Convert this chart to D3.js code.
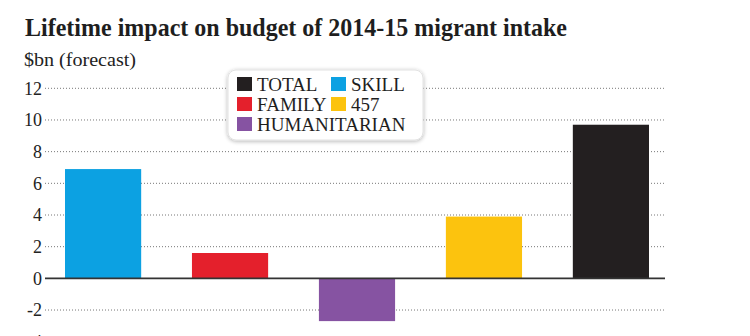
<!DOCTYPE html>
<html><head><meta charset="utf-8">
<script src="https://cdn.jsdelivr.net/npm/d3@7"></script>
<style>body{margin:0;background:#fff;}svg{display:block;}</style>
</head><body>
<svg id="c" width="750" height="336"></svg>
<script>
const categories = ["SKILL", "FAMILY", "HUMANITARIAN", "457", "TOTAL"];
const values = [6.9, 1.6, -2.7, 3.9, 9.7];
const colors = ["#0ca1e2", "#e4202c", "#8653a2", "#fcc30e", "#231f20"];
const yTicks = [-4, -2, 0, 2, 4, 6, 8, 10, 12];
const legendRows = [["TOTAL", "SKILL"], ["FAMILY", "457"], ["HUMANITARIAN"]];
const title = "Lifetime impact on budget of 2014-15 migrant intake";
const subtitle = "$bn (forecast)";

const svg = d3.select("#c");
const serif = "'Liberation Serif','DejaVu Serif',serif";
const left = 45, right = 665;

const x = d3.scaleBand().domain(categories).range([65, 649]).paddingInner(0.4).paddingOuter(0);
const y = d3.scaleLinear().domain([-4, 12]).range([341.7, 88.3]);

svg.append("rect").attr("width", 750).attr("height", 336).attr("fill", "#fff");

svg.append("text").attr("x", 25).attr("y", 36)
  .style("font-family", serif).style("font-weight", "bold").style("font-size", "26px")
  .attr("fill", "#1e1e1e").attr("textLength", 542).attr("lengthAdjust", "spacingAndGlyphs")
  .text(title);
svg.append("text").attr("x", 24).attr("y", 66)
  .style("font-family", serif).style("font-size", "19px").attr("fill", "#222")
  .attr("textLength", 112).attr("lengthAdjust", "spacingAndGlyphs")
  .text(subtitle);

// axis labels
const axis = d3.axisLeft(y).tickValues(yTicks).tickSize(0).tickPadding(0).tickFormat(d => String(d));
const g = svg.append("g").attr("transform", `translate(${left - 3},0)`).call(axis);
g.select(".domain").remove();
g.selectAll("text").style("font-family", serif).style("font-size", "18px").attr("fill", "#222");

// gridlines
svg.append("g").selectAll("line").data(yTicks.filter(d => d !== 0)).join("line")
  .attr("x1", left).attr("x2", right)
  .attr("y1", d => y(d)).attr("y2", d => y(d))
  .attr("stroke", "#777").attr("stroke-width", 1).attr("stroke-dasharray", "1,2");

// bars
svg.append("g").selectAll("rect").data(categories).join("rect")
  .attr("x", d => x(d)).attr("width", x.bandwidth())
  .attr("y", (d, i) => y(Math.max(0, values[i])))
  .attr("height", (d, i) => Math.abs(y(values[i]) - y(0)))
  .attr("fill", (d, i) => colors[i]);

// zero line
svg.append("line").attr("x1", left).attr("x2", right).attr("y1", y(0)).attr("y2", y(0))
  .attr("stroke", "#333").attr("stroke-width", 1.6);

// legend
const defs = svg.append("defs");
const f = defs.append("filter").attr("id", "sh").attr("x", "-10%").attr("y", "-20%").attr("width", "120%").attr("height", "140%");
f.append("feGaussianBlur").attr("in", "SourceAlpha").attr("stdDeviation", 2);
f.append("feOffset").attr("dx", 0).attr("dy", 1).attr("result", "b");
f.append("feComponentTransfer").append("feFuncA").attr("type", "linear").attr("slope", 0.3);
const m = f.append("feMerge"); m.append("feMergeNode"); m.append("feMergeNode").attr("in", "SourceGraphic");

const lg = svg.append("g");
lg.append("rect").attr("x", 228).attr("y", 70).attr("width", 195).attr("height", 70)
  .attr("rx", 8).attr("fill", "#fff").attr("stroke", "#e2e2e2").attr("filter", "url(#sh)");
const colX = [237, 331];
const rowY = [91, 111, 131];
legendRows.forEach((row, r) => row.forEach((name, c) => {
  const i = categories.indexOf(name);
  lg.append("rect").attr("x", colX[c]).attr("y", rowY[r] - 14).attr("width", 15).attr("height", 14).attr("fill", colors[i]);
  lg.append("text").attr("x", colX[c] + 20).attr("y", rowY[r])
    .style("font-family", serif).style("font-size", "19px").attr("fill", "#1e1e1e").text(name);
}));
</script>
</body></html>
